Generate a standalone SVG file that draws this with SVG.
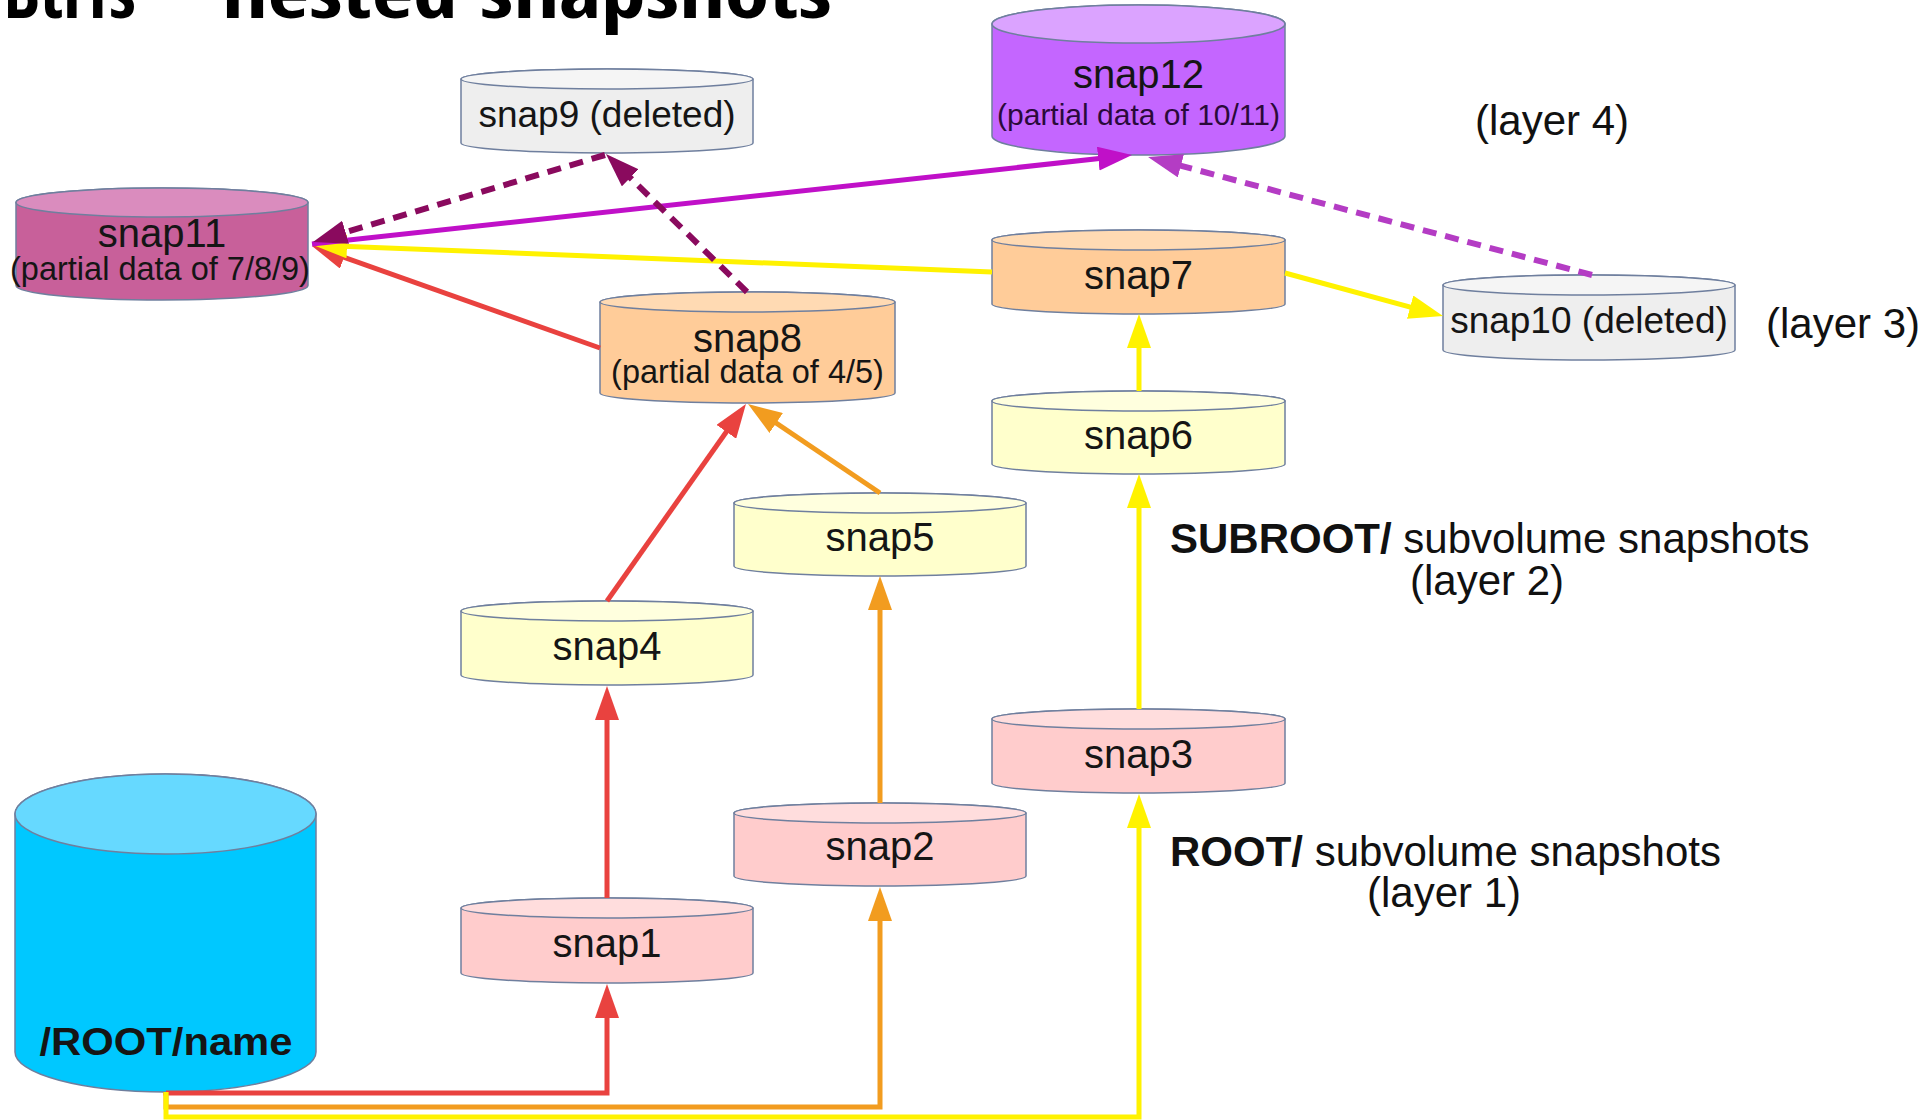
<svg xmlns="http://www.w3.org/2000/svg" width="1927" height="1120" viewBox="0 0 1927 1120">
<style>
.title{font-family:"Open Sans Condensed","DejaVu Sans Condensed","DejaVu Sans",sans-serif;font-stretch:condensed;font-weight:bold;font-size:72px;fill:#000}
.nd{stroke:#6f7f9e;stroke-width:1.5}
.lbl{font-family:"Liberation Sans",Arial,sans-serif;font-size:40px;text-anchor:middle;fill:#151515}
.del{font-size:37px}
.sub{font-size:32.5px}
.ann{font-family:"Liberation Sans",Arial,sans-serif;font-size:42px;fill:#111}
.b{font-weight:bold}
.c{fill:none;stroke-width:5}
.dash{stroke-width:6;stroke-dasharray:14 9}
.red{stroke:#e9423f}.orange{stroke:#f29c1f}.yellow{stroke:#fff200}.mag{stroke:#c010c8}.mag2{stroke:#b43cc4}.pur{stroke:#8a0a5e}
</style>
<defs>
<marker id="aRed" markerUnits="userSpaceOnUse" markerWidth="34" markerHeight="24" refX="24" refY="12" orient="auto"><path d="M0,0 L34,12 L0,24 Z" fill="#e9423f"/></marker>
<marker id="aOrange" markerUnits="userSpaceOnUse" markerWidth="34" markerHeight="24" refX="24" refY="12" orient="auto"><path d="M0,0 L34,12 L0,24 Z" fill="#f29c1f"/></marker>
<marker id="aYellow" markerUnits="userSpaceOnUse" markerWidth="34" markerHeight="24" refX="24" refY="12" orient="auto"><path d="M0,0 L34,12 L0,24 Z" fill="#fff200"/></marker>
<marker id="aMag" markerUnits="userSpaceOnUse" markerWidth="34" markerHeight="24" refX="24" refY="12" orient="auto"><path d="M0,0 L34,12 L0,24 Z" fill="#c010c8"/></marker>
<marker id="aMag2" markerUnits="userSpaceOnUse" markerWidth="34" markerHeight="24" refX="24" refY="12" orient="auto"><path d="M0,0 L34,12 L0,24 Z" fill="#b43cc4"/></marker>
<marker id="aPur" markerUnits="userSpaceOnUse" markerWidth="34" markerHeight="24" refX="24" refY="12" orient="auto"><path d="M0,0 L34,12 L0,24 Z" fill="#8a0a5e"/></marker>
</defs>
<rect width="1927" height="1120" fill="#fff"/>

<g id="title">
<text class="title" x="136" y="18" text-anchor="end">Btrfs</text>
<text class="title" x="178" y="6" text-anchor="middle">–</text>
<text class="title" x="222" y="18" textLength="610" lengthAdjust="spacingAndGlyphs">nested snapshots</text>
</g>

<g id="snap9">
<path class="nd" fill="#eeeeee" d="M461,79 V143 A146,10 0 0 0 753,143 V79 A146,10 0 0 0 461,79 Z"/>
<ellipse class="nd" fill="#f5f5f5" cx="607" cy="79" rx="146" ry="10"/>
<text class="lbl del" x="607" y="127">snap9 (deleted)</text>
</g>
<g id="snap12">
<path class="nd" fill="#c466ff" d="M992,24 V136 A146.5,19 0 0 0 1285,136 V24 A146.5,19 0 0 0 992,24 Z"/>
<ellipse class="nd" fill="#dba3ff" cx="1138.5" cy="24" rx="146.5" ry="19"/>
<text class="lbl" x="1138.5" y="88" fill="#220a33">snap12</text>
<text class="lbl" x="1138.5" y="125" style="font-size:30px;fill:#2a0a3a">(partial data of 10/11)</text>
</g>
<g id="snap11">
<path class="nd" fill="#c8609a" d="M16,202.5 V285.5 A146,14.5 0 0 0 308,285.5 V202.5 A146,14.5 0 0 0 16,202.5 Z"/>
<ellipse class="nd" fill="#da8cbe" cx="162" cy="202.5" rx="146" ry="14.5"/>
<text class="lbl" x="162" y="247" fill="#1a0a14">snap11</text>
<text class="lbl sub" x="160" y="280" fill="#1a0a14">(partial data of 7/8/9)</text>
</g>
<g id="snap7">
<path class="nd" fill="#ffcc99" d="M992,240 V304 A146.5,10 0 0 0 1285,304 V240 A146.5,10 0 0 0 992,240 Z"/>
<ellipse class="nd" fill="#ffdab3" cx="1138.5" cy="240" rx="146.5" ry="10"/>
<text class="lbl" x="1138.5" y="289">snap7</text>
</g>
<g id="snap10">
<path class="nd" fill="#eeeeee" d="M1443,285 V350 A146,10 0 0 0 1735,350 V285 A146,10 0 0 0 1443,285 Z"/>
<ellipse class="nd" fill="#f5f5f5" cx="1589" cy="285" rx="146" ry="10"/>
<text class="lbl del" x="1589" y="333">snap10 (deleted)</text>
</g>
<g id="snap8">
<path class="nd" fill="#ffcc99" d="M600,302 V393 A147.5,10 0 0 0 895,393 V302 A147.5,10 0 0 0 600,302 Z"/>
<ellipse class="nd" fill="#ffdab3" cx="747.5" cy="302" rx="147.5" ry="10"/>
<text class="lbl" x="747.5" y="352">snap8</text>
<text class="lbl sub" x="747.5" y="383">(partial data of 4/5)</text>
</g>
<g id="snap6">
<path class="nd" fill="#ffffcc" d="M992,401 V464 A146.5,10 0 0 0 1285,464 V401 A146.5,10 0 0 0 992,401 Z"/>
<ellipse class="nd" fill="#ffffde" cx="1138.5" cy="401" rx="146.5" ry="10"/>
<text class="lbl" x="1138.5" y="449">snap6</text>
</g>
<g id="snap5">
<path class="nd" fill="#ffffcc" d="M734,503 V566 A146,10 0 0 0 1026,566 V503 A146,10 0 0 0 734,503 Z"/>
<ellipse class="nd" fill="#ffffde" cx="880" cy="503" rx="146" ry="10"/>
<text class="lbl" x="880" y="551">snap5</text>
</g>
<g id="snap4">
<path class="nd" fill="#ffffcc" d="M461,611 V675 A146,10 0 0 0 753,675 V611 A146,10 0 0 0 461,611 Z"/>
<ellipse class="nd" fill="#ffffde" cx="607" cy="611" rx="146" ry="10"/>
<text class="lbl" x="607" y="660">snap4</text>
</g>
<g id="snap3">
<path class="nd" fill="#ffcccc" d="M992,719 V783 A146.5,10 0 0 0 1285,783 V719 A146.5,10 0 0 0 992,719 Z"/>
<ellipse class="nd" fill="#ffdddd" cx="1138.5" cy="719" rx="146.5" ry="10"/>
<text class="lbl" x="1138.5" y="768">snap3</text>
</g>
<g id="snap2">
<path class="nd" fill="#ffcccc" d="M734,813 V876 A146,10 0 0 0 1026,876 V813 A146,10 0 0 0 734,813 Z"/>
<ellipse class="nd" fill="#ffdddd" cx="880" cy="813" rx="146" ry="10"/>
<text class="lbl" x="880" y="860">snap2</text>
</g>
<g id="snap1">
<path class="nd" fill="#ffcccc" d="M461,908 V973 A146,10 0 0 0 753,973 V908 A146,10 0 0 0 461,908 Z"/>
<ellipse class="nd" fill="#ffdddd" cx="607" cy="908" rx="146" ry="10"/>
<text class="lbl" x="607" y="957">snap1</text>
</g>
<g id="root">
<path class="nd" fill="#00c8ff" d="M15,814 V1052 A150.5,40 0 0 0 316,1052 V814 A150.5,40 0 0 0 15,814 Z"/>
<ellipse class="nd" fill="#66d9ff" cx="165.5" cy="814" rx="150.5" ry="40"/>
<text class="lbl b" x="166" y="1055" style="font-size:38px" textLength="253" lengthAdjust="spacingAndGlyphs" fill="#0a1520">/ROOT/name</text>
</g>

<g id="annotations">
<text class="ann" x="1475" y="135">(layer 4)</text>
<text class="ann" x="1766" y="338">(layer 3)</text>
<text class="ann" x="1170" y="553"><tspan class="b">SUBROOT/</tspan> subvolume snapshots</text>
<text class="ann" x="1487" y="595" text-anchor="middle">(layer 2)</text>
<text class="ann" x="1170" y="866"><tspan class="b">ROOT/</tspan> subvolume snapshots</text>
<text class="ann" x="1444" y="907" text-anchor="middle">(layer 1)</text>
</g>

<g id="connectors">
<path class="c red" d="M166,1092 V1093 H607 V994" marker-end="url(#aRed)"/>
<path class="c orange" d="M166,1092 V1107 H880 V897" marker-end="url(#aOrange)"/>
<path class="c yellow" d="M166,1092 V1117 H1139 V804" marker-end="url(#aYellow)"/>
<path class="c red" d="M607,898 V696" marker-end="url(#aRed)"/>
<path class="c red" d="M607,601 L740.2,412.2" marker-end="url(#aRed)"/>
<path class="c red" d="M600,348 L321.4,249.3" marker-end="url(#aRed)"/>
<path class="c orange" d="M880,803 V586" marker-end="url(#aOrange)"/>
<path class="c orange" d="M880,493 L756.3,409.6" marker-end="url(#aOrange)"/>
<path class="c yellow" d="M1139,709 V484" marker-end="url(#aYellow)"/>
<path class="c yellow" d="M1139,391 V324" marker-end="url(#aYellow)"/>
<path class="c yellow" d="M992,272 L323,245.4" marker-end="url(#aYellow)"/>
<path class="c yellow" d="M1285,273 L1433.3,313.4" marker-end="url(#aYellow)"/>
<path class="c mag" d="M312,244 L1122.1,156.1" marker-end="url(#aMag)"/>
<path class="c dash mag2" d="M1592,275 L1157.7,159.6" marker-end="url(#aMag2)"/>
<path class="c dash pur" d="M605,155 L322.6,239.1" marker-end="url(#aPur)"/>
<path class="c dash pur" d="M747,292 L613.1,161" marker-end="url(#aPur)"/>
</g>
</svg>
